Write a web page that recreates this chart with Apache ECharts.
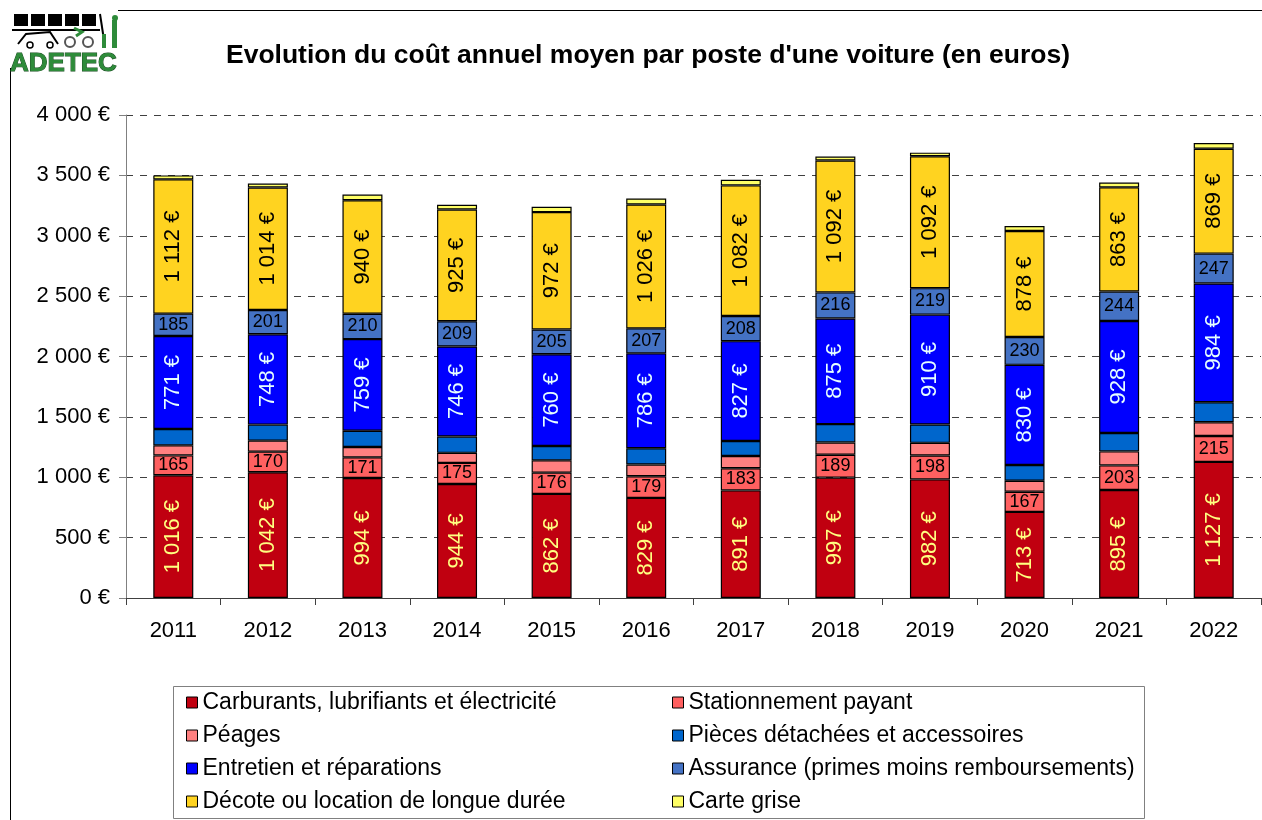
<!DOCTYPE html>
<html>
<head>
<meta charset="utf-8">
<script src="https://cdn.jsdelivr.net/npm/echarts@6/dist/echarts.min.js"></script>
<style>
  html, body { margin: 0; padding: 0; background: #fff; }
  #chart { width: 1262px; height: 820px; }
</style>
</head>
<body>
<div id="chart"></div>
<script>
const years = ['2011', '2012', '2013', '2014', '2015', '2016', '2017', '2018', '2019', '2020', '2021', '2022'];
const carburants = [1016, 1042, 994, 944, 862, 829, 891, 997, 982, 713, 895, 1127];
const stationnement = [165, 170, 171, 175, 176, 179, 183, 189, 198, 167, 203, 215];
const peages = [83, 91, 85, 83, 102, 97, 102, 102, 105, 91, 116, 113];
const pieces = [135, 133, 135, 135, 119, 135, 124, 152, 152, 130, 152, 166];
const entretien = [771, 748, 759, 746, 760, 786, 827, 875, 910, 830, 928, 984];
const assurance = [185, 201, 210, 209, 205, 207, 208, 216, 219, 230, 244, 247];
const decote = [1112, 1014, 940, 925, 972, 1026, 1082, 1092, 1092, 878, 863, 869];
const carteGrise = [33, 33, 47, 39, 44, 50, 47, 33, 30, 41, 39, 47];

const FONT = "'Liberation Sans', Arial, sans-serif";

function fmt(v) {
    return String(v).replace(/\B(?=(\d{3})+(?!\d))/g, ' ');
}

const vertLabel = (color) => ({
    show: true,
    position: 'inside',
    rotate: 90,
    color: color,
    fontFamily: FONT,
    fontSize: 22,
    formatter: (p) => fmt(p.value) + ' €'
});

const flatLabel = {
    show: true,
    position: 'inside',
    color: '#000',
    fontFamily: FONT,
    fontSize: 18,
    formatter: (p) => fmt(p.value)
};

function serie(name, data, color, label) {
    return {
        name: name,
        type: 'bar',
        stack: 'total',
        barWidth: 40,
        data: data,
        itemStyle: { color: color, borderColor: '#000', borderWidth: 1.2 },
        label: label || { show: false },
        emphasis: { disabled: true }
    };
}

const chart = echarts.init(document.getElementById('chart'));

const legendBase = {
    orient: 'vertical',
    top: 691,
    height: 129,
    padding: 0,
    icon: 'rect',
    itemWidth: 11,
    itemHeight: 11,
    itemGap: 10,
    itemStyle: { borderColor: '#000', borderWidth: 1 },
    textStyle: { fontFamily: FONT, fontSize: 23, color: '#000', lineHeight: 23 },
    selectedMode: false
};

const options = {
    animation: false,
    backgroundColor: '#fff',
    title: {
        text: "Evolution du coût annuel moyen par poste d'une voiture (en euros)",
        left: 643,
        textAlign: 'center',
        top: 37,
        textStyle: { fontFamily: FONT, fontSize: 26.5, fontWeight: 'bold', color: '#000' }
    },
    grid: { left: 126, right: 1, top: 115, bottom: 222, containLabel: false },
    legend: [
        Object.assign({}, legendBase, {
            left: 186,
            data: ['Carburants, lubrifiants et électricité', 'Péages', 'Entretien et réparations', 'Décote ou location de longue durée']
        }),
        Object.assign({}, legendBase, {
            left: 672,
            data: ['Stationnement payant', 'Pièces détachées et accessoires', 'Assurance (primes moins remboursements)', 'Carte grise']
        })
    ],
    xAxis: {
        type: 'category',
        data: years,
        axisLine: { lineStyle: { color: '#404040', width: 1 } },
        axisTick: { show: true, length: 7, lineStyle: { color: '#404040' } },
        axisLabel: { fontFamily: FONT, fontSize: 22, color: '#000', margin: 22 }
    },
    yAxis: {
        type: 'value',
        min: 0,
        max: 4000,
        interval: 500,
        axisLine: { show: true, lineStyle: { color: '#808080' } },
        axisTick: { show: true, length: 7, lineStyle: { color: '#808080' } },
        axisLabel: {
            fontFamily: FONT, fontSize: 22, color: '#000', margin: 16,
            formatter: (v) => fmt(v) + ' €'
        },
        splitLine: { lineStyle: { color: '#404040', type: [7, 7], width: 1 } }
    },
    graphic: [
        // cadre
        { type: 'line', shape: { x1: 118, y1: 10.5, x2: 1262, y2: 10.5 }, style: { stroke: '#000', lineWidth: 1 } },
        { type: 'line', shape: { x1: 10.5, y1: 68, x2: 10.5, y2: 820 }, style: { stroke: '#000', lineWidth: 1 } },
        // encadre de la legende
        { type: 'rect', shape: { x: 173.5, y: 686.5, width: 971, height: 132 }, style: { fill: 'none', stroke: '#808080', lineWidth: 1 }, z: -1 },
        // logo ADETEC
        { type: 'rect', shape: { x: 14, y: 14, width: 14, height: 12 }, style: { fill: '#000' } },
        { type: 'rect', shape: { x: 31, y: 14, width: 14, height: 12 }, style: { fill: '#000' } },
        { type: 'rect', shape: { x: 48, y: 14, width: 14, height: 12 }, style: { fill: '#000' } },
        { type: 'rect', shape: { x: 65, y: 14, width: 14, height: 12 }, style: { fill: '#000' } },
        { type: 'rect', shape: { x: 82, y: 14, width: 14, height: 12 }, style: { fill: '#000' } },
        { type: 'line', shape: { x1: 12, y1: 30, x2: 100, y2: 30 }, style: { stroke: '#000', lineWidth: 2 } },
        { type: 'line', shape: { x1: 100, y1: 14, x2: 104, y2: 40 }, style: { stroke: '#000', lineWidth: 2 } },
        { type: 'polyline', shape: { points: [[18, 44], [26, 34], [50, 32], [58, 44]] }, style: { stroke: '#000', lineWidth: 2, fill: 'none' } },
        { type: 'circle', shape: { cx: 30, cy: 45, r: 3 }, style: { fill: '#fff', stroke: '#000', lineWidth: 1.5 } },
        { type: 'circle', shape: { cx: 50, cy: 45, r: 3 }, style: { fill: '#fff', stroke: '#000', lineWidth: 1.5 } },
        { type: 'circle', shape: { cx: 70, cy: 42, r: 5 }, style: { fill: 'none', stroke: '#555', lineWidth: 2 } },
        { type: 'circle', shape: { cx: 88, cy: 42, r: 5 }, style: { fill: 'none', stroke: '#555', lineWidth: 2 } },
        { type: 'polyline', shape: { points: [[74, 28], [82, 32], [76, 36]] }, style: { stroke: '#2e8b3a', lineWidth: 3, fill: 'none' } },
        { type: 'rect', shape: { x: 112, y: 20, width: 5, height: 28 }, style: { fill: '#2e8b3a' } },
        { type: 'circle', shape: { cx: 115, cy: 18, r: 3 }, style: { fill: '#2e8b3a' } },
        { type: 'rect', shape: { x: 102, y: 34, width: 4, height: 14 }, style: { fill: '#2e8b3a' } },
        { type: 'text', x: 10, y: 51, style: { text: 'ADETEC', fill: '#2e8b3a', stroke: '#1a4d22', lineWidth: 1, font: "bold 26px 'Liberation Sans', Arial, sans-serif" } }
    ],
    series: [
        serie('Carburants, lubrifiants et électricité', carburants, '#C00010', vertLabel('#FFFF80')),
        serie('Stationnement payant', stationnement, '#FF6060', flatLabel),
        serie('Péages', peages, '#FF8080'),
        serie('Pièces détachées et accessoires', pieces, '#0066CC'),
        serie('Entretien et réparations', entretien, '#0000FF', vertLabel('#E6FFFF')),
        serie('Assurance (primes moins remboursements)', assurance, '#4472C4', flatLabel),
        serie('Décote ou location de longue durée', decote, '#FFD320', vertLabel('#000')),
        serie('Carte grise', carteGrise, '#FFFF66')
    ]
};

chart.setOption(options);
</script>
</body>
</html>
